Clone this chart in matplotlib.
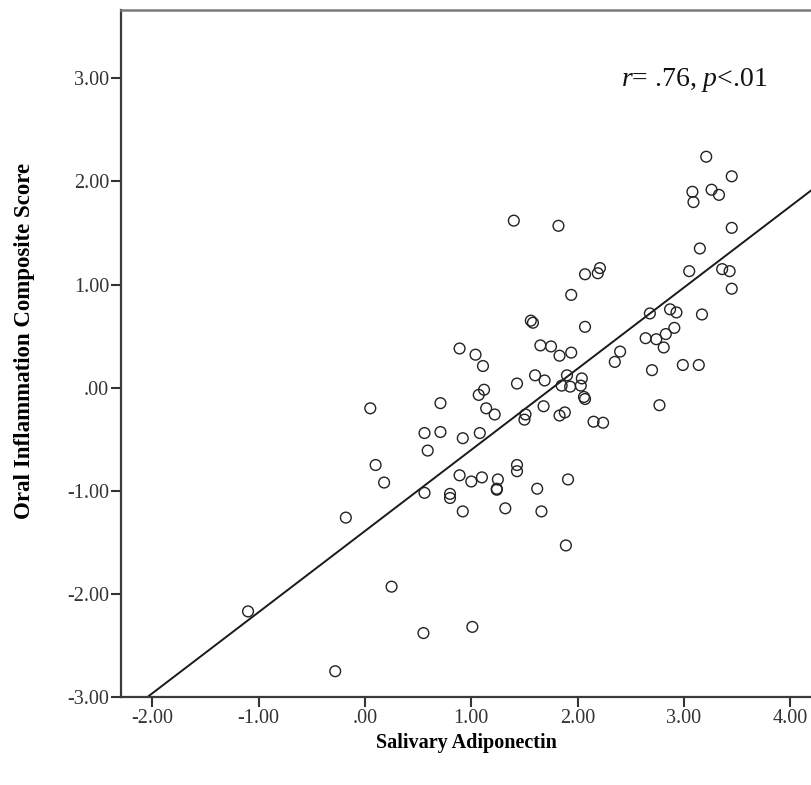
import matplotlib
matplotlib.use("Agg")
import matplotlib.pyplot as plt
import numpy as np

# ---- data ----
adiponectin = [
    3.21, 3.45, 3.08, 3.09, 3.26, 3.33, 1.40, 1.82, 3.45, 3.15,
    2.07, 2.19, 2.21, 3.05, 3.36, 3.43, 3.45, 1.94, 1.56, 1.58,
    2.07, 2.68, 2.87, 2.93, 3.17, 2.64, 2.74, 2.83, 2.91, 2.81,
    0.89, 1.04, 1.11, 1.65, 1.75, 1.83, 1.94, 2.35, 2.40, 2.70,
    2.99, 3.14, 0.05, 0.71, 1.12, 1.07, 1.14, 1.22, 1.43, 1.60,
    1.69, 1.90, 2.04, 1.85, 1.93, 2.03, 2.06, 2.07, 1.68, 2.77,
    1.51, 1.50, 1.83, 1.88, 2.15, 2.24, 0.56, 0.71, 0.59, 0.92,
    1.08, 0.10, 0.18, 0.56, 0.89, 1.00, 1.10, 0.80, 0.80, 0.92,
    1.25, 1.24, 1.24, 1.43, 1.43, 1.32, 1.62, 1.66, 1.91, 1.89,
    -0.18, -1.10, 0.25, 0.55, 1.01, -0.28,
]
inflammation = [
    2.24, 2.05, 1.90, 1.80, 1.92, 1.87, 1.62, 1.57, 1.55, 1.35,
    1.10, 1.11, 1.16, 1.13, 1.15, 1.13, 0.96, 0.90, 0.65, 0.63,
    0.59, 0.72, 0.76, 0.73, 0.71, 0.48, 0.47, 0.52, 0.58, 0.39,
    0.38, 0.32, 0.21, 0.41, 0.40, 0.31, 0.34, 0.25, 0.35, 0.17,
    0.22, 0.22, -0.20, -0.15, -0.02, -0.07, -0.20, -0.26, 0.04, 0.12,
    0.07, 0.12, 0.09, 0.02, 0.01, 0.02, -0.09, -0.11, -0.18, -0.17,
    -0.26, -0.31, -0.27, -0.24, -0.33, -0.34, -0.44, -0.43, -0.61, -0.49,
    -0.44, -0.75, -0.92, -1.02, -0.85, -0.91, -0.87, -1.03, -1.07, -1.20,
    -0.89, -0.98, -0.99, -0.75, -0.81, -1.17, -0.98, -1.20, -0.89, -1.53,
    -1.26, -2.17, -1.93, -2.38, -2.32, -2.75,
]

fit_slope = 0.787
fit_intercept = -1.39

x_ticks = [-2, -1, 0, 1, 2, 3, 4]
x_tick_labels = ["-2.00", "-1.00", ".00", "1.00", "2.00", "3.00", "4.00"]
y_ticks = [-3, -2, -1, 0, 1, 2, 3]
y_tick_labels = ["-3.00", "-2.00", "-1.00", ".00", "1.00", "2.00", "3.00"]

x_label = "Salivary Adiponectin"
y_label = "Oral Inflammation Composite Score"

# ---- styling ----
plt.rcParams["font.family"] = ["Liberation Serif", "DejaVu Serif"]
plt.rcParams["mathtext.fontset"] = "custom"
plt.rcParams["mathtext.rm"] = "Liberation Serif"
plt.rcParams["mathtext.it"] = "Liberation Serif:italic"

fig = plt.figure(figsize=(8.12, 7.85), dpi=100)
ax = fig.add_axes([121 / 812, 88 / 785, 1 - 121 / 812, 687 / 785])

ax.set_xlim(-2.295, 4.205)
ax.set_ylim(-2.995, 3.663)

ax.scatter(adiponectin, inflammation, s=60, facecolors="none",
           edgecolors="#222222", linewidths=1.0, zorder=3)

xl = np.array(ax.get_xlim())
ax.plot(xl, fit_intercept + fit_slope * xl, color="#1a1a1a", lw=1.4, zorder=2)

ax.set_xticks(x_ticks)
ax.set_xticklabels(x_tick_labels)
ax.set_yticks(y_ticks)
ax.set_yticklabels(y_tick_labels)
ax.tick_params(axis="both", direction="out", length=7, width=1.5,
               color="#333333", labelsize=14.5, labelcolor="#333333", pad=1.5)

for side in ["left", "bottom"]:
    ax.spines[side].set_color("#3a3a3a")
    ax.spines[side].set_linewidth(1.6)
ax.spines["top"].set_color("#7a7a7a")
ax.spines["top"].set_linewidth(1.8)
ax.spines["right"].set_visible(False)

ax.set_xlabel(x_label, fontsize=14.5, fontweight="bold", labelpad=4)
ax.set_ylabel(y_label, fontsize=16.5, fontweight="bold")
ax.yaxis.set_label_coords(-0.124, 0.518)

ax.text(2.41, 2.98, r"$\mathit{r}$= .76, $\mathit{p}$<.01", fontsize=20,
        ha="left", va="center", color="#111111")

fig.savefig("out.png", dpi=100)
